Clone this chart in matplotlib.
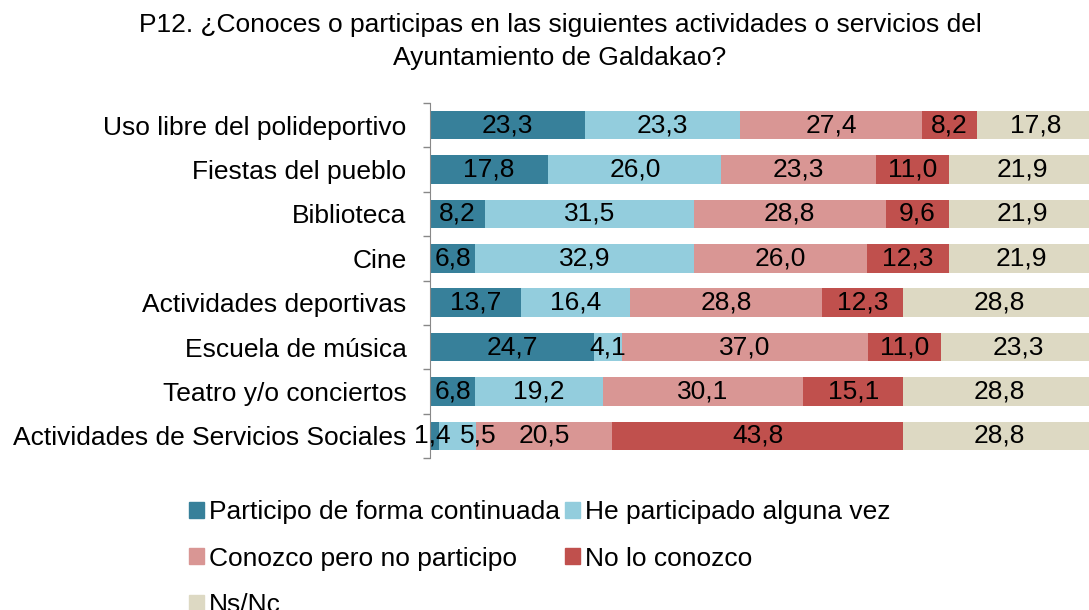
import numpy as np
import matplotlib.pyplot as plt
from matplotlib.patches import Patch

plt.rcParams['font.family'] = ['Liberation Sans', 'DejaVu Sans']

categories = ['Uso libre del polideportivo', 'Fiestas del pueblo', 'Biblioteca', 'Cine',
              'Actividades deportivas', 'Escuela de música', 'Teatro y/o conciertos',
              'Actividades de Servicios Sociales']
series = ['Participo de forma continuada', 'He participado alguna vez',
          'Conozco pero no participo', 'No lo conozco', 'Ns/Nc']
continuada = [23.3, 17.8, 8.2, 6.8, 13.7, 24.7, 6.8, 1.4]
alguna_vez = [23.3, 26.0, 31.5, 32.9, 16.4, 4.1, 19.2, 5.5]
conozco = [27.4, 23.3, 28.8, 26.0, 28.8, 37.0, 30.1, 20.5]
no_conozco = [8.2, 11.0, 9.6, 12.3, 12.3, 11.0, 15.1, 43.8]
nsnc = [17.8, 21.9, 21.9, 21.9, 28.8, 23.3, 28.8, 28.8]
colors = ['#37809A', '#93CDDD', '#D99694', '#C0504D', '#DDD9C3']

data = [continuada, alguna_vez, conozco, no_conozco, nsnc]
fs = 19

fig = plt.figure(figsize=(10.89, 6.10), dpi=100)
ax = fig.add_axes([430 / 1089, 1 - 458 / 610, 665 / 1089, 355 / 610])

y = np.arange(len(categories))
left = np.zeros(len(categories))
for k, (vals, col, name) in enumerate(zip(data, colors, series)):
    vals = np.array(vals)
    ax.barh(y, vals, left=left, height=0.64, color=col, label=name)
    for yi, l, v in zip(y, left, vals):
        xc = l + v / 2
        # small labels on the last row are nudged apart, as in the original
        if yi == len(categories) - 1 and k == 0:
            xc -= 0.3
        if yi == len(categories) - 1 and k == 1:
            xc += 3.1
        ax.text(xc, yi, f'{v:.1f}'.replace('.', ','), ha='center', va='center',
                fontsize=fs)
    left += vals

ax.set_xlim(0, 100)
ax.set_ylim(len(categories) - 0.5, -0.5)
ax.set_yticks(y)
ax.set_yticklabels(categories, fontsize=fs)
ax.set_yticks(np.arange(-0.5, len(categories)), minor=True)
ax.tick_params(axis='y', which='major', length=0, pad=17)
ax.tick_params(axis='y', which='minor', length=5, color='#888888', width=1)
ax.set_xticks([])
for s in ['top', 'right', 'bottom']:
    ax.spines[s].set_visible(False)
ax.spines['left'].set_color('#888888')

fig.text(560 / 1089, 1 - 25 / 610, 'P12. ¿Conoces o participas en las siguientes actividades o servicios del',
         ha='center', va='center', fontsize=fs)
fig.text(560 / 1089, 1 - 58 / 610, 'Ayuntamiento de Galdakao?', ha='center', va='center', fontsize=fs)

handles = [Patch(color=c) for c in colors]
order = [0, 2, 4, 1, 3]
fig.legend([handles[i] for i in order], [series[i] for i in order], ncol=2,
           loc='upper left', bbox_to_anchor=(176 / 1089, 1 - 487 / 610), frameon=False,
           fontsize=fs, handlelength=0.55, handleheight=0.55, handletextpad=0.2,
           columnspacing=0.2, labelspacing=0.85, borderpad=0)

fig.savefig('out.png', dpi=100)
